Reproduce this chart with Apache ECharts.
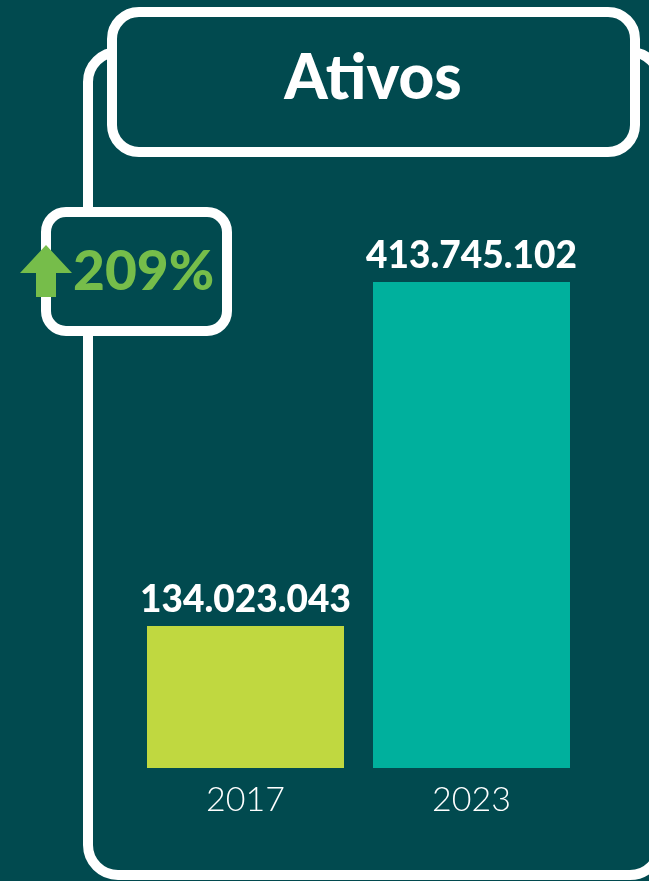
<!DOCTYPE html>
<html>
<head>
<meta charset="utf-8">
<script src="https://cdn.jsdelivr.net/npm/echarts@6/dist/echarts.min.js"></script>
<style>
html,body{margin:0;padding:0;background:#014a4f;}
#chart{width:649px;height:881px;}
</style>
</head>
<body>
<div id="chart"></div>
<script>
// ---- data ----
const title = 'Ativos';
const categories = ['2017', '2023'];
const values = [134023043, 413745102];
const barColors = ['#c0d840', '#00b09d'];
const growthLabel = '209%';
// value-axis range (bars are not drawn from zero)
const axisMin = 18550000;
const axisMax = 480400000;

const BG = '#014a4f';
function fmt(v) { return String(v).replace(/\B(?=(\d{3})+(?!\d))/g, '.'); }

const chart = echarts.init(document.getElementById('chart'), null, {renderer: 'canvas'});
chart.setOption({
  backgroundColor: BG,
  animation: false,
  grid: {left: 132.5, right: 649 - 584.5, top: 200, bottom: 113, containLabel: false},
  xAxis: {
    type: 'category',
    data: categories,
    axisLine: {show: false},
    axisTick: {show: false},
    axisLabel: {color: '#ffffff', fontFamily: 'Lato', fontWeight: 300, fontSize: 34, margin: 15}
  },
  yAxis: {
    type: 'value', min: axisMin, max: axisMax, show: false,
    splitLine: {show: false}
  },
  series: [{
    type: 'bar',
    barWidth: 197,
    data: values.map((v, i) => ({value: v, itemStyle: {color: barColors[i]}})),
    label: {
      show: true, position: 'top', distance: 7,
      color: '#ffffff', fontFamily: 'Lato', fontWeight: 900, fontSize: 37,
      formatter: p => fmt(p.value)
    }
  }],
  graphic: [
    {type: 'rect', z: 0, shape: {x: 88, y: 52, width: 572, height: 823, r: 30},
     style: {fill: BG, stroke: '#ffffff', lineWidth: 10}},
    {type: 'rect', z: 1, shape: {x: 112, y: 12, width: 523, height: 140, r: 27},
     style: {fill: BG, stroke: '#ffffff', lineWidth: 10}},
    {type: 'text', z: 2, x: 373, y: 79,
     style: {text: title, fill: '#ffffff', font: '900 62px Lato', textAlign: 'center', textVerticalAlign: 'middle'}},
    {type: 'rect', z: 1, shape: {x: 46, y: 212, width: 181, height: 119, r: 20},
     style: {fill: BG, stroke: '#ffffff', lineWidth: 10}},
    {type: 'polygon', z: 3,
     shape: {points: [[46, 245], [72, 273], [56, 273], [56, 297], [36, 297], [36, 273], [20, 273]]},
     style: {fill: '#76bd4a'}},
    {type: 'text', z: 3, x: 73, y: 272,
     style: {text: growthLabel, fill: '#76bd4a', font: '900 55px Lato', textAlign: 'left', textVerticalAlign: 'middle'}}
  ]
});
</script>
</body>
</html>
